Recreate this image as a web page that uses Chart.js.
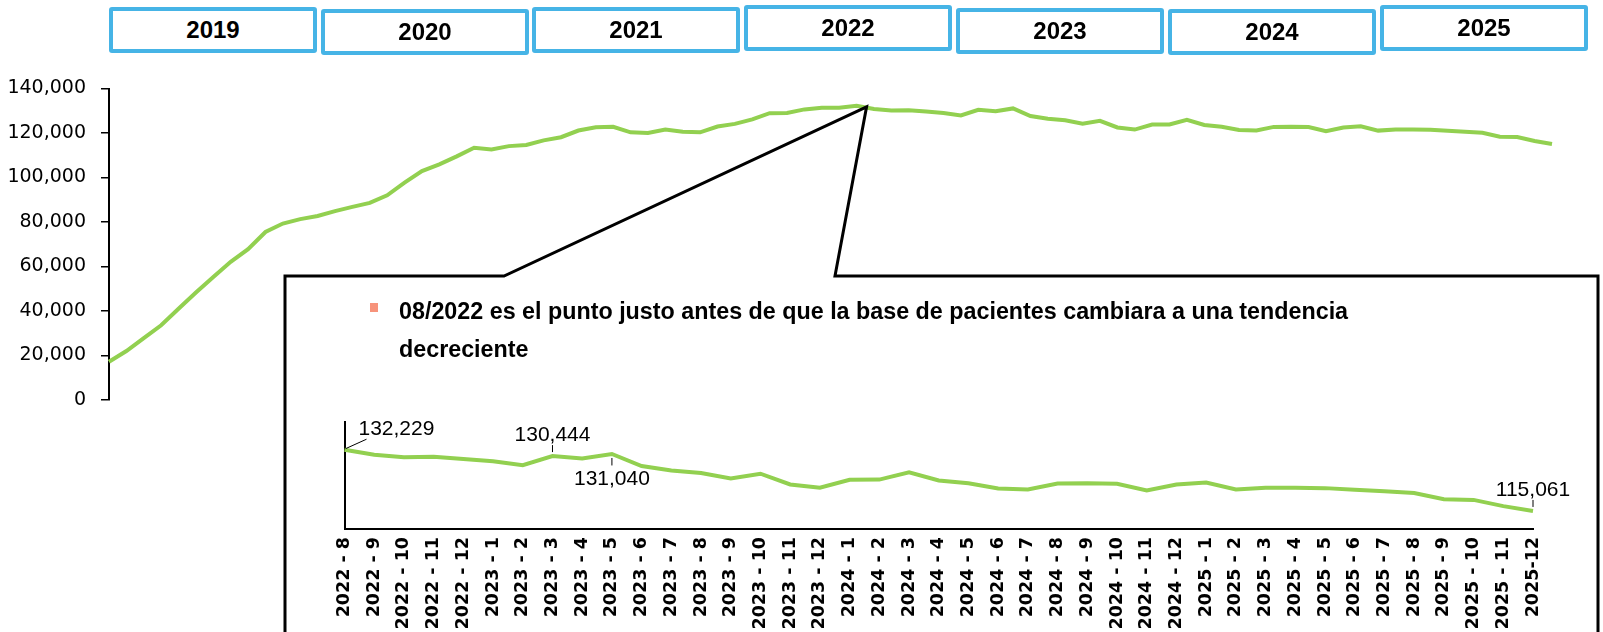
<!DOCTYPE html>
<html>
<head>
<meta charset="utf-8">
<script src="https://cdn.jsdelivr.net/npm/chart.js@4/dist/chart.umd.min.js"></script>
<style>
    html, body { margin: 0; padding: 0; background: #fff; }
    #wrap { position: relative; width: 1603px; height: 632px; overflow: hidden; }
    #mainChart { position: absolute; left: 0; top: 0; }
    #zoomChart { position: absolute; left: 290px; top: 400px; }
    .yr {
        position: absolute; width: 208px; height: 46px; box-sizing: border-box;
        border: 4px solid #46B4E6; border-radius: 3px; background: #fff;
        font: bold 24px "Liberation Sans", Arial, sans-serif; color: #000;
        display: flex; align-items: center; justify-content: center;
    }
</style>
</head>
<body>
<div id="wrap">
    <canvas id="mainChart" width="1603" height="632"></canvas>
    <canvas id="zoomChart" width="1300" height="232"></canvas>
</div>
<script>
// monthly patient base, one array per year
const years = ["2019", "2020", "2021", "2022", "2023", "2024", "2025"];
const v2019 = [17200, 22000, 27800, 33600, 41000, 48300, 55300, 62100, 67800, 75500, 79300, 81300];
const v2020 = [82700, 84900, 86800, 88600, 92000, 97700, 102900, 105900, 109500, 113400, 112600, 114100];
const v2021 = [114600, 116700, 118100, 121100, 122600, 122800, 120300, 120000, 121600, 120600, 120300, 122900];
const v2022 = [124100, 126100, 128900, 129000, 130600, 131300, 131400, 132229, 130800, 130100, 130250, 129650];
const v2023 = [129000, 127900, 130444, 129800, 131040, 127650, 126400, 125700, 124150, 125500, 122500, 121550];
const v2024 = [123800, 123850, 125900, 123600, 122830, 121370, 121100, 122740, 122860, 122660, 120780, 122460];
const v2025 = [123030, 121070, 121580, 121580, 121460, 120980, 120590, 120100, 118350, 118160, 116410, 115061];

const yTicks = [0, 20000, 40000, 60000, 80000, 100000, 120000, 140000];

// detail panel: 2022-8 .. 2025-12
const zoomLabels = [
    "2022 - 8", "2022 - 9", "2022 - 10", "2022 - 11", "2022 - 12",
    "2023 - 1", "2023 - 2", "2023 - 3", "2023 - 4", "2023 - 5", "2023 - 6",
    "2023 - 7", "2023 - 8", "2023 - 9", "2023 - 10", "2023 - 11", "2023 - 12",
    "2024 - 1", "2024 - 2", "2024 - 3", "2024 - 4", "2024 - 5", "2024 - 6",
    "2024 - 7", "2024 - 8", "2024 - 9", "2024 - 10", "2024 - 11", "2024 - 12",
    "2025 - 1", "2025 - 2", "2025 - 3", "2025 - 4", "2025 - 5", "2025 - 6",
    "2025 - 7", "2025 - 8", "2025 - 9", "2025 - 10", "2025 - 11", "2025-12"
];
// which points of the detail panel get a value label, and where
const labelled = [[0, "corner"], [7, "above"], [9, "below"], [40, "above"]];

const calloutText = [
    "08/2022 es el punto justo antes de que la base de pacientes cambiara a una tendencia",
    "decreciente"
];

const patients = [].concat(v2019, v2020, v2021, v2022, v2023, v2024, v2025);
const months = [];
years.forEach(y => { for (let m = 1; m <= 12; m++) months.push(y + "-" + m); });
const peak = months.indexOf("2022-8");
const recent = patients.slice(peak);

const green = "#92D050";
const fmt = v => v.toLocaleString("en-US");

// year strip at the top
const boxLeft = [109, 321, 532, 744, 956, 1168, 1380];
const boxTop = [7, 9, 7, 5, 8, 9, 5];
years.forEach((y, i) => {
    const d = document.createElement("div");
    d.className = "yr";
    d.style.left = boxLeft[i] + "px";
    d.style.top = boxTop[i] + "px";
    d.textContent = y;
    document.getElementById("wrap").appendChild(d);
});

// speech-bubble box pointing at the peak month, with its note
const calloutPlugin = {
    id: "callout",
    afterDraw(chart) {
        const { ctx, scales: { x, y } } = chart;
        const ax = x.getPixelForValue(peak) + 10;
        const ay = y.getPixelForValue(patients[peak]) + 1;
        ctx.save();
        ctx.strokeStyle = "#000";
        ctx.lineWidth = 3;
        ctx.lineJoin = "miter";
        ctx.beginPath();
        ctx.moveTo(285, 660);
        ctx.lineTo(285, 276);
        ctx.lineTo(504, 276);
        ctx.lineTo(ax, ay);
        ctx.lineTo(835, 276);
        ctx.lineTo(1598, 276);
        ctx.lineTo(1598, 660);
        ctx.stroke();

        ctx.fillStyle = "#F7937B";
        ctx.fillRect(370, 303, 8, 9);
        ctx.fillStyle = "#000";
        ctx.font = 'bold 23.3px "Liberation Sans", Arial, sans-serif';
        ctx.textBaseline = "alphabetic";
        ctx.fillText(calloutText[0], 399, 319);
        ctx.fillText(calloutText[1], 399, 357);
        ctx.restore();
    }
};

new Chart(document.getElementById("mainChart"), {
    type: "line",
    data: {
        labels: months,
        datasets: [{
            data: patients,
            borderColor: green,
            borderWidth: 4,
            pointRadius: 0,
            tension: 0,
            fill: false,
            clip: false
        }]
    },
    options: {
        responsive: false,
        animation: false,
        layout: { padding: { top: 88.5, right: 51, bottom: 232, left: 0 } },
        plugins: { legend: { display: false }, tooltip: { enabled: false } },
        scales: {
            x: { display: false },
            y: {
                min: 0,
                max: 140000,
                afterFit(s) { s.width = 109; },
                afterBuildTicks(s) { s.ticks = yTicks.map(v => ({ value: v })); },
                ticks: {
                    padding: 15,
                    color: "#000",
                    font: { family: "DejaVu Sans", size: 19 },
                    callback: v => fmt(v)
                },
                grid: { drawOnChartArea: false, drawTicks: true, tickLength: 8, color: "#000", lineWidth: 1.5 },
                border: { display: true, color: "#000", width: 2 }
            }
        }
    },
    plugins: [calloutPlugin]
});

// value labels with little leader lines
const valueLabels = {
    id: "valueLabels",
    afterDatasetsDraw(chart) {
        const { ctx } = chart;
        const pts = chart.getDatasetMeta(0).data;
        ctx.save();
        ctx.font = '21px "Liberation Sans", Arial, sans-serif';
        ctx.fillStyle = "#000";
        ctx.strokeStyle = "#000";
        ctx.lineWidth = 1;
        ctx.textBaseline = "alphabetic";
        labelled.forEach(([i, where]) => {
            const p = pts[i];
            const txt = fmt(recent[i]);
            ctx.beginPath();
            if (where === "corner") {
                ctx.moveTo(p.x + 1, p.y - 1);
                ctx.lineTo(p.x + 22, p.y - 10.5);
                ctx.stroke();
                ctx.textAlign = "left";
                ctx.fillText(txt, p.x + 14, p.y - 22 + 7.5);
            } else if (where === "above") {
                ctx.moveTo(p.x, p.y - 4);
                ctx.lineTo(p.x, p.y - 11);
                ctx.stroke();
                ctx.textAlign = "center";
                ctx.fillText(txt, p.x, p.y - 22.5 + 7.5);
            } else {
                ctx.moveTo(p.x, p.y + 4);
                ctx.lineTo(p.x, p.y + 11.5);
                ctx.stroke();
                ctx.textAlign = "center";
                ctx.fillText(txt, p.x, p.y + 23.5 + 7.5);
            }
        });
        ctx.restore();
    }
};

new Chart(document.getElementById("zoomChart"), {
    type: "line",
    data: {
        labels: zoomLabels,
        datasets: [{
            data: recent,
            borderColor: green,
            borderWidth: 4,
            pointRadius: 0,
            tension: 0,
            fill: false,
            clip: false
        }]
    },
    options: {
        responsive: false,
        animation: false,
        layout: { padding: { top: 22, right: 57, bottom: 0, left: 0 } },
        plugins: { legend: { display: false }, tooltip: { enabled: false } },
        scales: {
            x: {
                afterFit(s) { s.height = 103; },
                ticks: {
                    autoSkip: false,
                    maxRotation: 90,
                    minRotation: 90,
                    padding: 8,
                    color: "#000",
                    font: { family: "DejaVu Sans", size: 17.5, weight: "bold" }
                },
                grid: { display: false, drawTicks: false },
                border: { display: true, color: "#000", width: 2 }
            },
            y: {
                min: 110000,
                max: 140000,
                afterFit(s) { s.width = 54.5; },
                ticks: { display: false },
                grid: { display: false, drawTicks: false },
                border: { display: true, color: "#000", width: 2 }
            }
        }
    },
    plugins: [valueLabels]
});
</script>
</body>
</html>
